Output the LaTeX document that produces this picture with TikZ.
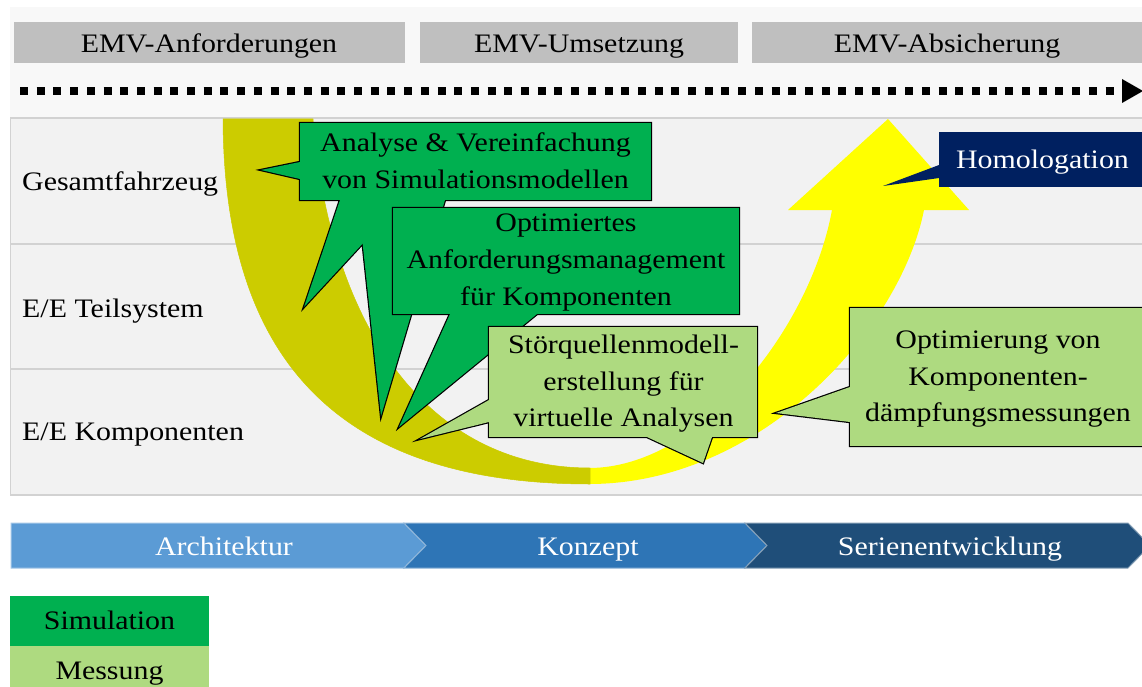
\documentclass[tikz,border=0pt]{standalone}
\usepackage{fontspec}
\setmainfont[FakeStretch=1.12]{Liberation Serif}
\definecolor{simgreen}{RGB}{0,176,80}
\definecolor{measgreen}{RGB}{174,218,128}
\definecolor{navyblue}{RGB}{0,32,96}
\definecolor{dkyellow}{RGB}{204,204,0}
\definecolor{bryellow}{RGB}{255,255,0}
\definecolor{hdrgray}{RGB}{191,191,191}
\definecolor{gridfill}{RGB}{242,242,242}
\definecolor{gridline}{RGB}{210,210,210}
\definecolor{topstrip}{RGB}{248,248,248}
\definecolor{chevA}{RGB}{91,155,213}
\definecolor{chevB}{RGB}{46,117,182}
\definecolor{chevC}{RGB}{31,78,121}
\begin{document}
\begin{tikzpicture}[x=1pt,y=-1pt,
  font=\fontsize{26.7}{36.7}\selectfont,
  txt/.style={anchor=base,inner sep=0pt},
  lbl/.style={anchor=base west,inner sep=0pt},
  wtxt/.style={anchor=base,inner sep=0pt,text=white},
  outl/.style={draw=black,line width=2.4pt,line join=miter},
  chev/.style={line width=1pt,line join=miter}]
\useasboundingbox (0,0) rectangle (1142,687);
\clip (0,0) rectangle (1142,687);
\fill[white] (0,0) rectangle (1142,687);
\fill[topstrip] (10,7) rectangle (1150,118);
% header boxes
\fill[hdrgray] (14,22) rectangle (405,63);
\fill[hdrgray] (420,22) rectangle (738,63);
\fill[hdrgray] (752,22) rectangle (1150,63);
\node[txt] (h1) at (209,53) {EMV-Anforderungen};
\node[txt] (h2) at (579,53) {EMV-Umsetzung};
\node[txt] (h3) at (947,53) {EMV-Absicherung};
% timeline
\coordinate (tl0) at (20,91);
\coordinate (tl1) at (1117,91);
\draw[line width=8pt,dash pattern=on 8pt off 8.7pt] (tl0) -- (tl1);
\fill (1122,79) -- (1143,91) -- (1122,103) -- cycle;
% grid
\filldraw[fill=gridfill,draw=gridline,line width=1.2pt] (10.5,118) rectangle (1150,495);
\draw[gridline,line width=1.2pt] (10.5,244) -- (1150,244) (10.5,369) -- (1150,369);
\node[lbl] (r1) at (22,190) {Gesamtfahrzeug};
\node[lbl] (r2) at (22,317) {E/E Teilsystem};
\node[lbl] (r3) at (22,440) {E/E Komponenten};
% U arrow
\fill[bryellow] (589,484) .. controls (760,484) and (900,330) .. (924,210)
  -- (969,210) -- (888,119) -- (788,210) -- (832,210)
  .. controls (810,330) and (700,468) .. (589,468) -- cycle;
\filldraw[fill=dkyellow,draw=dkyellow,line width=0.5pt] (223,119) .. controls (224,335) and (315,484) .. (590,484)
  -- (590,468) .. controls (430,468) and (330,330) .. (313,119) -- cycle;
% callout 1
\draw[outl] (300,123) rectangle (651,200)
  (300,162) -- (261,170) -- (300,179) -- cycle
  (340,200) -- (304,307) -- (403,200) -- cycle
  (358,200) -- (381,416) -- (445,200) -- cycle;
\fill[simgreen] (300,123) rectangle (651,200);
\fill[simgreen] (300,162) -- (261,170) -- (300,179) -- cycle;
\fill[simgreen] (340,200) -- (304,307) -- (403,200) -- cycle;
\fill[simgreen] (358,200) -- (381,416) -- (445,200) -- cycle;
\node[txt] (c1a) at (475.5,152) {Analyse \& Vereinfachung};
\node[txt] (c1b) at (475.5,189) {von Simulationsmodellen};
% callout 2
\draw[outl] (393,208) rectangle (739,314)
  (450,314) -- (399,427) -- (537,314) -- cycle;
\fill[simgreen] (393,208) rectangle (739,314);
\fill[simgreen] (450,314) -- (399,427) -- (537,314) -- cycle;
\node[txt] (c2a) at (566,231.7) {Optimiertes};
\node[txt] (c2b) at (566,268.5) {Anforderungsmanagement};
\node[txt] (c2c) at (566,305) {für Komponenten};
% callout 3
\draw[outl] (489,327) rectangle (757,437)
  (489,400) -- (420,439) -- (489,422) -- cycle
  (647,437) -- (703,463) -- (712,437) -- cycle;
\fill[measgreen] (489,327) rectangle (757,437);
\fill[measgreen] (489,400) -- (420,439) -- (489,422) -- cycle;
\fill[measgreen] (647,437) -- (703,463) -- (712,437) -- cycle;
\node[txt] (c3a) at (623.5,353.3) {Störquellenmodell-};
\node[txt] (c3b) at (623.5,390) {erstellung für};
\node[txt] (c3c) at (623.5,426.7) {virtuelle Analysen};
% callout 4
\draw[outl] (850,308) rectangle (1160,446)
  (850,387) -- (776,413) -- (850,422) -- cycle;
\fill[measgreen] (850,308) rectangle (1160,446);
\fill[measgreen] (850,387) -- (776,413) -- (850,422) -- cycle;
\node[txt] (c4a) at (998,348.3) {Optimierung von};
\node[txt] (c4b) at (998,385) {Komponenten-};
\node[txt] (c4c) at (998,421.7) {dämpfungsmessungen};
% homologation
\fill[navyblue] (939,132) rectangle (1160,187);
\fill[navyblue] (939,165) -- (883,186) -- (939,178) -- cycle;
\node[wtxt] (hom) at (1042.5,168) {Homologation};
% chevrons
\filldraw[chev,fill=chevA,draw=chevA!55!white] (11,523) -- (404,523) -- (426,545.5) -- (404,568) -- (11,568) -- cycle;
\filldraw[chev,fill=chevB,draw=chevB!55!white] (404,523) -- (745,523) -- (767,545.5) -- (745,568) -- (404,568) -- (426,545.5) -- cycle;
\filldraw[chev,fill=chevC,draw=chevC!55!white] (745,523) -- (1128,523) -- (1150,545.5) -- (1128,568) -- (745,568) -- (767,545.5) -- cycle;
\node[wtxt] (p1) at (224,555) {Architektur};
\node[wtxt] (p2) at (588,555) {Konzept};
\node[wtxt] (p3) at (950,555) {Serienentwicklung};
% legend
\fill[simgreen] (10,596) rectangle (209,645.7);
\fill[measgreen] (10,645.7) rectangle (209,700);
\node[txt] (l1) at (109.5,629.3) {Simulation};
\node[txt] (l2) at (109.5,679.3) {Messung};
\end{tikzpicture}
\end{document}
